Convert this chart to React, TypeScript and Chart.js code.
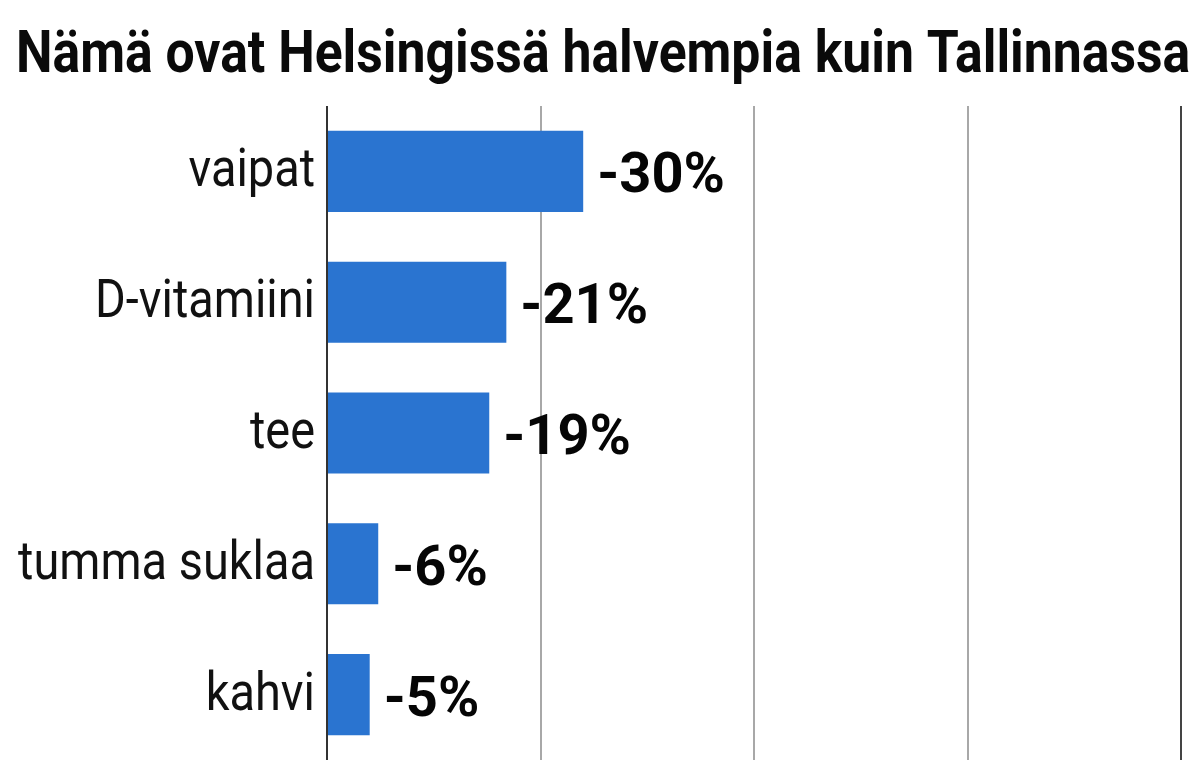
import React, { useEffect, useRef } from "react";
import { Chart, registerables } from "chart.js";

Chart.register(...registerables);

const TITLE = "Nämä ovat Helsingissä halvempia kuin Tallinnassa";
const categories = ["vaipat", "D-vitamiini", "tee", "tumma suklaa", "kahvi"];
const values = [30, 21, 19, 6, 5];
const axisMax = 100;
const axisStep = 25;

const BAR_COLOR = "#2a74d0";

const overlayPlugin = {
  id: "overlay",
  afterDraw(chart: any) {
    const ctx = chart.ctx as CanvasRenderingContext2D;
    const yScale = chart.scales.y;
    // title
    ctx.save();
    ctx.fillStyle = "#0a0a0a";
    ctx.font = "bold 60px Roboto";
    ctx.textBaseline = "alphabetic";
    ctx.textAlign = "left";
    ctx.translate(16, 72);
    ctx.scale(0.862, 1);
    ctx.fillText(TITLE, 0, 0);
    ctx.restore();

    // category labels (condensed look)
    categories.forEach((c, i) => {
      const y = yScale.getPixelForValue(i);
      ctx.save();
      ctx.fillStyle = "#111";
      ctx.font = "53px Roboto";
      ctx.textBaseline = "alphabetic";
      ctx.textAlign = "right";
      ctx.translate(chart.chartArea.left - 12, y + 15);
      ctx.scale(0.885, 1);
      ctx.fillText(c, 0, 0);
      ctx.restore();
    });

    // value labels
    const meta = chart.getDatasetMeta(0);
    meta.data.forEach((bar: any, i: number) => {
      ctx.save();
      ctx.fillStyle = "#050505";
      ctx.font = "bold 56px Roboto";
      ctx.textBaseline = "alphabetic";
      ctx.textAlign = "left";
      ctx.fillText(`-${values[i]}%`, bar.x + 14, bar.y + 21);
      ctx.restore();
    });
  },
};

export default function App() {
  const ref = useRef<HTMLCanvasElement | null>(null);

  useEffect(() => {
    document.body.style.margin = "0";
    if (!ref.current) return;
    const chart = new Chart(ref.current, {
      type: "bar",
      data: {
        labels: categories,
        datasets: [
          {
            data: values,
            backgroundColor: BAR_COLOR,
            borderWidth: 0,
            categoryPercentage: 1,
            barPercentage: 0.62,
          },
        ],
      },
      options: {
        indexAxis: "y",
        animation: false,
        responsive: true,
        maintainAspectRatio: false,
        layout: { padding: { left: 327, right: 17, top: 106, bottom: 18 } },
        plugins: {
          legend: { display: false },
          title: { display: false },
          tooltip: { enabled: false },
        },
        scales: {
          x: {
            min: 0,
            max: axisMax,
            ticks: { stepSize: axisStep, display: false },
            border: { display: false },
            grid: {
              drawTicks: false,
              lineWidth: 2,
              color: (c: any) => {
                const v = c.tick ? c.tick.value : 0;
                if (v === 0) return "#333";
                if (v === axisMax) return "#444";
                return "#a8a8a8";
              },
            },
          },
          y: {
            display: false,
          },
        },
      },
      plugins: [overlayPlugin],
    });
    return () => chart.destroy();
  }, []);

  return (
    <div style={{ position: "relative", width: 1198, height: 778, background: "#fff" }}>
      <canvas ref={ref} />
    </div>
  );
}
